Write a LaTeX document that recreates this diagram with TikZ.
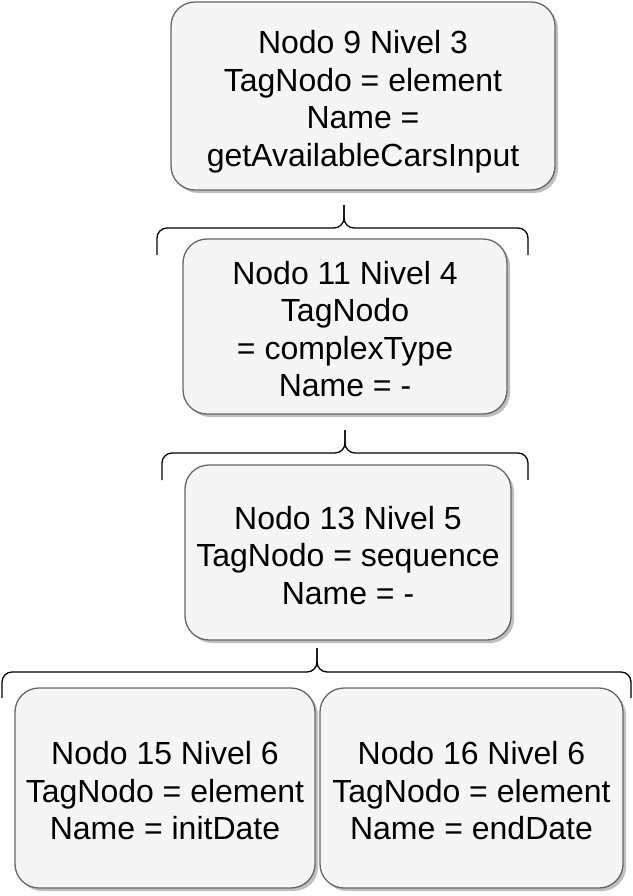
\documentclass[tikz,border=0pt]{standalone}
\usepackage{fontspec}
\setmainfont{Liberation Sans}
\usetikzlibrary{shadows}
\newcommand{\boxtext}[1]{\raisebox{-6.5pt}[\height][\depth]{\begin{tabular}{@{}c@{}}#1\end{tabular}}}
\begin{document}
\begin{tikzpicture}[x=1pt,y=-1pt,
  box/.style={draw=black!60, fill=black!4, line width=1.3pt, rounded corners=24pt,
    inner sep=0pt, font=\fontsize{32}{37.5}\selectfont,
    drop shadow={shadow xshift=3pt, shadow yshift=-3pt, fill=black!25, opacity=1}},
  bracestyle/.style={draw=black, line width=1.3pt, rounded corners=10pt}]
\useasboundingbox (0,0) rectangle (632,896);
\node[box, minimum width=384pt, minimum height=188pt] (n9) at (363,96) {\boxtext{Nodo 9 Nivel 3\\TagNodo = element\\Name =\\getAvailableCarsInput}};
\node[box, minimum width=324pt, minimum height=175pt] (n11) at (345,326.5) {\boxtext{Nodo 11 Nivel 4\\TagNodo\\= complexType\\Name = -}};
\node[box, minimum width=326pt, minimum height=175pt] (n13) at (348,552.5) {\boxtext{Nodo 13 Nivel 5\\TagNodo = sequence\\Name = -}};
\node[box, minimum width=300pt, minimum height=200pt] (n15) at (165,788) {\boxtext{Nodo 15 Nivel 6\\TagNodo = element\\Name = initDate}};
\node[box, minimum width=303pt, minimum height=200pt] (n16) at (471.5,788) {\boxtext{Nodo 16 Nivel 6\\TagNodo = element\\Name = endDate}};
% brace 1
\coordinate (t1) at (344,205);
\coordinate (l1) at (157,255);
\coordinate (r1) at (528,255);
\draw[bracestyle] (l1) |- (344,228) -- (t1);
\draw[bracestyle] (r1) |- (344,228) -- (t1);
% brace 2
\coordinate (t2) at (345,430);
\coordinate (l2) at (162,480);
\coordinate (r2) at (528,480);
\draw[bracestyle] (l2) |- (345,453) -- (t2);
\draw[bracestyle] (r2) |- (345,453) -- (t2);
% brace 3
\coordinate (t3) at (317,648);
\coordinate (l3) at (2,698);
\coordinate (r3) at (631,698);
\draw[bracestyle] (l3) |- (317,672) -- (t3);
\draw[bracestyle] (r3) |- (317,672) -- (t3);
\end{tikzpicture}
\end{document}
